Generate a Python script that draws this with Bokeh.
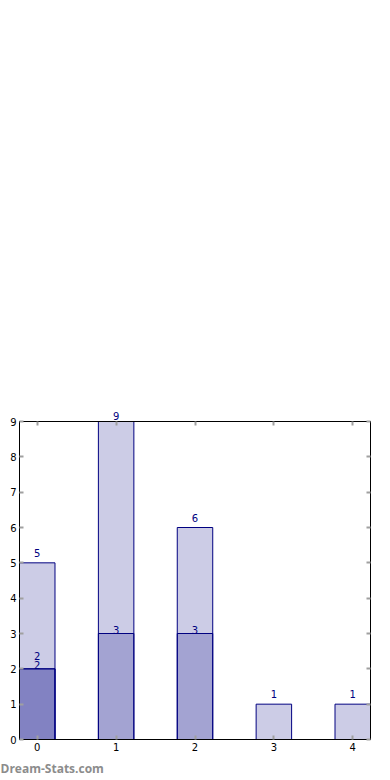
from bokeh.plotting import figure
from bokeh.models import Range1d, LinearAxis, FixedTicker, Title, LabelSet, ColumnDataSource
from bokeh.embed import file_html
from bokeh.resources import INLINE
from bokeh.core.properties import value

categories = [0, 1, 2, 3, 4]
series_total = [5, 9, 6, 1, 1]
series_mid = [2, 3, 3, 0, 0]
series_low = [2, 0, 0, 0, 0]
y_ticks = [0, 1, 2, 3, 4, 5, 6, 7, 8, 9]

W, H = 390, 780
BORDER_L, BORDER_R, BORDER_T, BORDER_B = 19, 20, 421, 40
X0, X1 = -0.225, 4.225
Y0, Y1 = 0, max(y_ticks)

p = figure(width=W, height=H, output_backend="svg", toolbar_location=None,
           x_range=Range1d(X0, X1), y_range=Range1d(Y0, Y1),
           min_border_left=BORDER_L, min_border_right=BORDER_R,
           min_border_top=BORDER_T, min_border_bottom=BORDER_B,
           x_axis_location=None, y_axis_location=None)
p.grid.visible = False
p.outline_line_color = "black"
p.outline_line_width = 1
p.background_fill_color = "white"
p.border_fill_color = "white"

FONT = "DejaVu Sans"

def style_axis(ax, ticks, show_labels):
    ax.major_tick_in = 4
    ax.major_tick_out = 0
    ax.minor_tick_in = 0
    ax.minor_tick_out = 0
    ax.major_tick_line_color = "#a0a0a0"
    ax.major_tick_line_width = 2
    ax.axis_line_color = "black"
    ax.axis_line_width = 1
    ax.major_label_text_font = FONT
    ax.major_label_text_font_size = "10px"
    ax.major_label_text_color = "black"
    ax.major_label_standoff = 3
    if not show_labels:
        ax.major_label_overrides = {t: "" for t in ticks}

for loc, ticks, show in [("below", categories, True), ("above", categories, False),
                         ("left", y_ticks, True), ("right", y_ticks, False)]:
    ax = LinearAxis(ticker=FixedTicker(ticks=ticks))
    style_axis(ax, ticks, show)
    p.add_layout(ax, loc)

frame_w = W - BORDER_L - BORDER_R
DIGIT_W = 6.4  # approx width of one digit at 10px DejaVu Sans

series_list = [(series_total, 6), (series_mid, 0), (series_low, 9)]
for vals, off in series_list:
    xs = [c for c, v in zip(categories, vals) if v > 0]
    ys = [v for v in vals if v > 0]
    src = ColumnDataSource(dict(x=xs, top=ys, label=[str(v) for v in ys]))
    p.vbar(x="x", top="top", bottom=0, width=0.45, source=src,
           fill_color="navy", fill_alpha=0.2, line_color="navy", line_width=1)
    inside = [i for i, v in enumerate(ys) if v < Y1]
    lsrc = ColumnDataSource(dict(x=[xs[i] for i in inside], top=[ys[i] for i in inside],
                                 label=[str(ys[i]) for i in inside]))
    p.add_layout(LabelSet(x="x", y="top", text="label", source=lsrc, text_align="center",
                          text_baseline="bottom", y_offset=off, text_font=value(FONT),
                          text_font_size="10px", text_color="navy"), "above")
    # labels that sit above the frame (bar reaches the top of the axis): drawn as titles
    for xv, v in zip(xs, ys):
        if v >= Y1:
            txt = str(v)
            px = (xv - X0) / (X1 - X0) * frame_w
            t = Title(text=txt, align="left", offset=px - DIGIT_W * len(txt) / 2,
                      text_font=FONT, text_font_size="10px", text_font_style="normal",
                      text_color="navy", standoff=4)
            p.add_layout(t, "above")

wm = Title(text="Dream-Stats.com", align="left", text_font="Open Sans", text_font_size="12px",
           text_font_style="bold", text_color="#8c8c8c", offset=-BORDER_L, standoff=8)
p.add_layout(wm, "below")

open("out.html", "w").write(file_html(p, INLINE))
